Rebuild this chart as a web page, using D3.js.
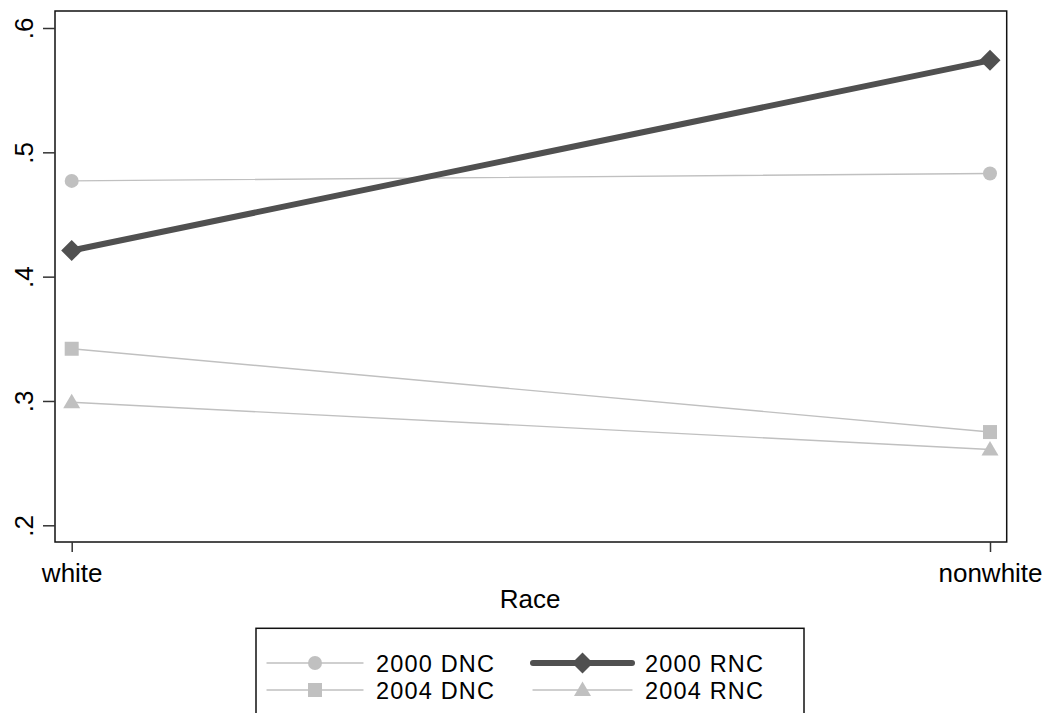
<!DOCTYPE html>
<html>
<head>
<meta charset="utf-8">
<script src="https://cdn.jsdelivr.net/npm/d3@7"></script>
<style>
  html, body { margin: 0; padding: 0; background: #fff; }
  svg { display: block; }
  text { font-family: "Liberation Sans", Arial, sans-serif; fill: #000; }
</style>
</head>
<body>
<svg id="chart" width="1047" height="713"></svg>
<script>
const categories = ["white", "nonwhite"];
const seriesNames = ["2000 DNC", "2000 RNC", "2004 DNC", "2004 RNC"];
const dnc2000 = [0.477, 0.483];
const rnc2000 = [0.421, 0.574];
const dnc2004 = [0.342, 0.275];
const rnc2004 = [0.299, 0.261];
const yTicks = [0.2, 0.3, 0.4, 0.5, 0.6];
const yTickLabels = [".2", ".3", ".4", ".5", ".6"];
const xAxisTitle = "Race";

const svg = d3.select("#chart");
const W = 1047, H = 713;
svg.append("rect").attr("width", W).attr("height", H).attr("fill", "#fff");

const frame = { left: 55, right: 1006.7, top: 11, bottom: 542 };
const x = d3.scalePoint().domain(categories).range([71.7, 990]).padding(0);
const y = d3.scaleLinear().domain([0.2, 0.6]).range([525.3, 28]);

const series = [
  { name: seriesNames[0], values: dnc2000, color: "#c0c0c0", width: 1.4, shape: "circle" },
  { name: seriesNames[1], values: rnc2000, color: "#505050", width: 6, shape: "diamond" },
  { name: seriesNames[2], values: dnc2004, color: "#c0c0c0", width: 1.4, shape: "square" },
  { name: seriesNames[3], values: rnc2004, color: "#c0c0c0", width: 1.4, shape: "triangle" }
];

function symbolPath(shape) {
  if (shape === "circle") return d3.symbol(d3.symbolCircle, Math.PI * 7 * 7)();
  if (shape === "square") return d3.symbol(d3.symbolSquare, 14 * 14)();
  if (shape === "diamond") return "M0,-10.5L10.5,0L0,10.5L-10.5,0Z";
  if (shape === "triangle") return "M0,-8.5L8.5,6L-8.5,6Z";
}

// Frame
svg.append("rect")
  .attr("x", frame.left).attr("y", frame.top)
  .attr("width", frame.right - frame.left).attr("height", frame.bottom - frame.top)
  .attr("fill", "none").attr("stroke", "#111").attr("stroke-width", 1.5);

// Y axis
const yAxis = d3.axisLeft(y).tickValues(yTicks).tickSize(12)
  .tickFormat((d, i) => yTickLabels[i]);
const yg = svg.append("g").attr("transform", `translate(${frame.left},0)`).call(yAxis);
yg.select(".domain").remove();
yg.selectAll(".tick line").attr("stroke", "#333").attr("stroke-width", 1.5);
yg.selectAll(".tick text")
  .attr("x", null).attr("dy", null)
  .attr("text-anchor", "middle")
  .attr("transform", "translate(-22,0) rotate(-90)")
  .style("font-size", "26px")
  .style("font-family", "'Liberation Sans', Arial, sans-serif")
  .attr("fill", "#000");

// X axis
const xAxis = d3.axisBottom(x).tickSize(10).tickPadding(0);
const xg = svg.append("g").attr("transform", `translate(0,${frame.bottom})`).call(xAxis);
xg.select(".domain").remove();
xg.selectAll(".tick line").attr("stroke", "#333").attr("stroke-width", 1.5);
xg.selectAll(".tick text")
  .attr("y", 40).attr("dy", null)
  .style("font-size", "26px")
  .style("font-family", "'Liberation Sans', Arial, sans-serif")
  .attr("fill", "#000");

svg.append("text").attr("x", 530).attr("y", 608)
  .attr("text-anchor", "middle").style("font-size", "26px").text(xAxisTitle);

// Lines and markers (draw light series first, dark on top)
const order = [0, 2, 3, 1];
const line = d3.line().x((d, i) => x(categories[i])).y(d => y(d));
order.forEach(k => {
  const s = series[k];
  svg.append("path").datum(s.values)
    .attr("d", line).attr("fill", "none")
    .attr("stroke", s.color).attr("stroke-width", s.width)
    .attr("stroke-linecap", "round");
  svg.selectAll(null).data(s.values).enter().append("path")
    .attr("d", symbolPath(s.shape))
    .attr("transform", (d, i) => `translate(${x(categories[i])},${y(d)})`)
    .attr("fill", s.color);
});

// Legend
const lg = svg.append("g");
lg.append("rect").attr("x", 256).attr("y", 628.3).attr("width", 548).attr("height", 120)
  .attr("fill", "#fff").attr("stroke", "#111").attr("stroke-width", 1.5);
const cols = [{ x1: 267, x2: 363, tx: 376 }, { x1: 533, x2: 632, tx: 645 }];
const rows = [663, 690];
series.forEach((s, i) => {
  const c = cols[i % 2], r = rows[Math.floor(i / 2)];
  lg.append("line").attr("x1", c.x1).attr("x2", c.x2).attr("y1", r).attr("y2", r)
    .attr("stroke", s.color).attr("stroke-width", s.width).attr("stroke-linecap", "round");
  lg.append("path").attr("d", symbolPath(s.shape))
    .attr("transform", `translate(${(c.x1 + c.x2) / 2},${r})`).attr("fill", s.color);
  lg.append("text").attr("x", c.tx).attr("y", r + 8.5)
    .style("font-size", "23.5px").attr("textLength", 118).attr("lengthAdjust", "spacing")
    .text(s.name);
});
</script>
</body>
</html>
